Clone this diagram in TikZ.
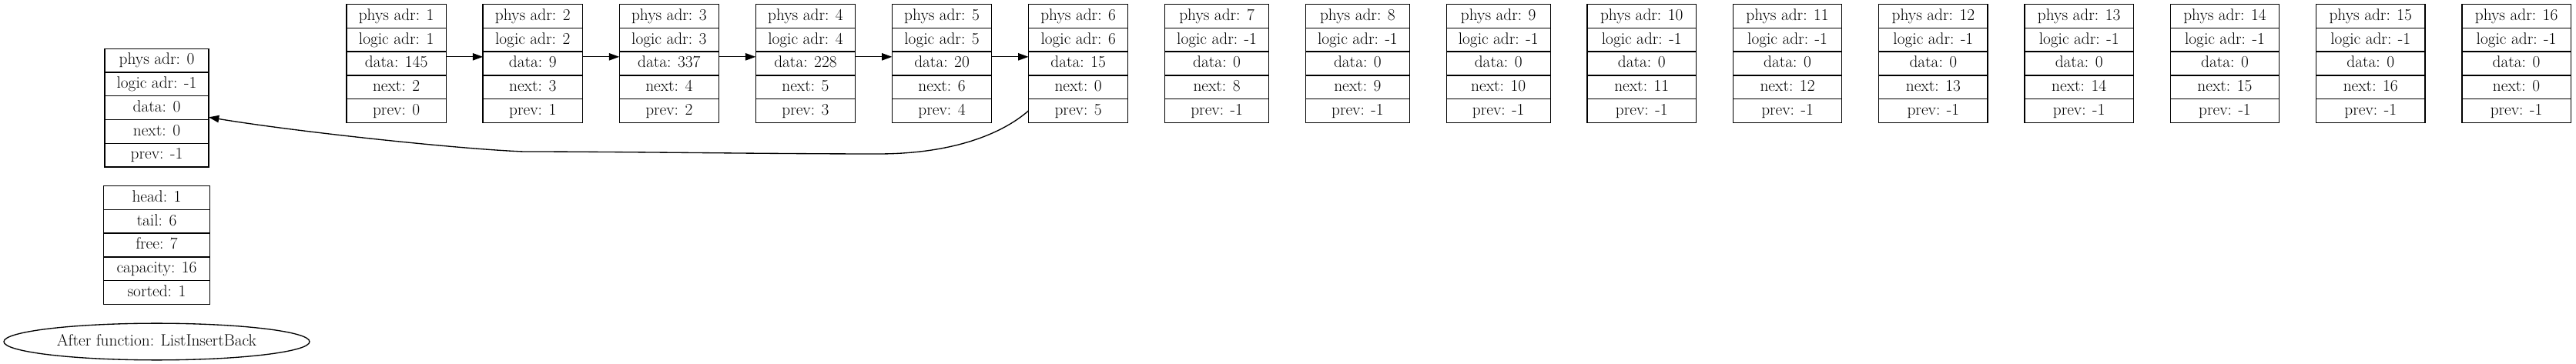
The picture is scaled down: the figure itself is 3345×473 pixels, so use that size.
\documentclass[tikz,border=0pt]{standalone}
\usetikzlibrary{arrows.meta,shapes.geometric}
\newcommand\rec[9]{%
  \node[cell,minimum width={#3*0.75pt},anchor=north west] (#1r1) at (#2,#4) {#5};
  \node[cell,minimum width={#3*0.75pt},anchor=north] (#1r2) at (#1r1.south) {#6};
  \node[cell,minimum width={#3*0.75pt},anchor=north] (#1r3) at (#1r2.south) {#7};
  \node[cell,minimum width={#3*0.75pt},anchor=north] (#1r4) at (#1r3.south) {#8};
  \node[cell,minimum width={#3*0.75pt},anchor=north] (#1r5) at (#1r4.south) {#9};
}
\begin{document}
\begin{tikzpicture}[x=0.75pt,y=-0.75pt,
  every node/.style={font=\fontsize{16pt}{19pt}\selectfont},
  cell/.style={draw=black,line width=1pt,outer sep=0pt,inner sep=0pt,
    minimum height=23.04pt,text height=11pt,text depth=3pt,align=center},
  arr/.style={-{Triangle[length=10pt,width=7pt]},line width=1pt,black},
  lnk/.style={arr}]
\useasboundingbox (0,0) rectangle (3345,473);
% ---- free-standing records
\rec{n0}{136}{135}{63.3}{phys adr: 0}{logic adr: -1}{data: 0}{next: 0}{prev: -1}
\rec{info}{134.7}{137.6}{241.7}{head: 1}{tail: 6}{free: 7}{capacity: 16}{sorted: 1}
\node[draw=black,line width=1pt,ellipse,inner sep=0pt,minimum width=397*0.75pt,
  minimum height=47.7*0.75pt,text height=11pt,text depth=3pt] (title) at (203.5,444)
  {After function: ListInsertBack};
% ---- list records
\rec{n1}{450}{129.3}{5.7}{phys adr: 1}{logic adr: 1}{data: 145}{next: 2}{prev: 0}
\rec{n2}{627.1}{129.3}{5.7}{phys adr: 2}{logic adr: 2}{data: 9}{next: 3}{prev: 1}
\rec{n3}{804.2}{129.3}{5.7}{phys adr: 3}{logic adr: 3}{data: 337}{next: 4}{prev: 2}
\rec{n4}{981.3}{129.3}{5.7}{phys adr: 4}{logic adr: 4}{data: 228}{next: 5}{prev: 3}
\rec{n5}{1158.4}{129.3}{5.7}{phys adr: 5}{logic adr: 5}{data: 20}{next: 6}{prev: 4}
\rec{n6}{1335.5}{129.3}{5.7}{phys adr: 6}{logic adr: 6}{data: 15}{next: 0}{prev: 5}
\rec{n7}{1512.6}{135}{5.7}{phys adr: 7}{logic adr: -1}{data: 0}{next: 8}{prev: -1}
\rec{n8}{1695.4}{135}{5.7}{phys adr: 8}{logic adr: -1}{data: 0}{next: 9}{prev: -1}
\rec{n9}{1878.2}{135}{5.7}{phys adr: 9}{logic adr: -1}{data: 0}{next: 10}{prev: -1}
\rec{n10}{2061.0}{141.5}{5.7}{phys adr: 10}{logic adr: -1}{data: 0}{next: 11}{prev: -1}
\rec{n11}{2250.3}{141.5}{5.7}{phys adr: 11}{logic adr: -1}{data: 0}{next: 12}{prev: -1}
\rec{n12}{2439.6}{141.5}{5.7}{phys adr: 12}{logic adr: -1}{data: 0}{next: 13}{prev: -1}
\rec{n13}{2628.9}{141.5}{5.7}{phys adr: 13}{logic adr: -1}{data: 0}{next: 14}{prev: -1}
\rec{n14}{2818.2}{141.5}{5.7}{phys adr: 14}{logic adr: -1}{data: 0}{next: 15}{prev: -1}
\rec{n15}{3007.5}{141.5}{5.7}{phys adr: 15}{logic adr: -1}{data: 0}{next: 16}{prev: -1}
\rec{n16}{3196.8}{141.5}{5.7}{phys adr: 16}{logic adr: -1}{data: 0}{next: 0}{prev: -1}
% ---- next links
\foreach \a/\b in {n1/n2,n2/n3,n3/n4,n4/n5,n5/n6}
  \draw[lnk] ([yshift=6.5pt]\a r3.east) -- ([yshift=6.5pt]\b r3.west);
% ---- back link from tail to fictive element
\draw[arr] (n6r5.west) .. controls (1300,175) and (1235,200) .. (1140,200)
  .. controls (1000,200) and (800,197) .. (680,197)
  .. controls (600,194) and (390,172) .. ([yshift=-9.2pt]n0r3.east);
\end{tikzpicture}
\end{document}
